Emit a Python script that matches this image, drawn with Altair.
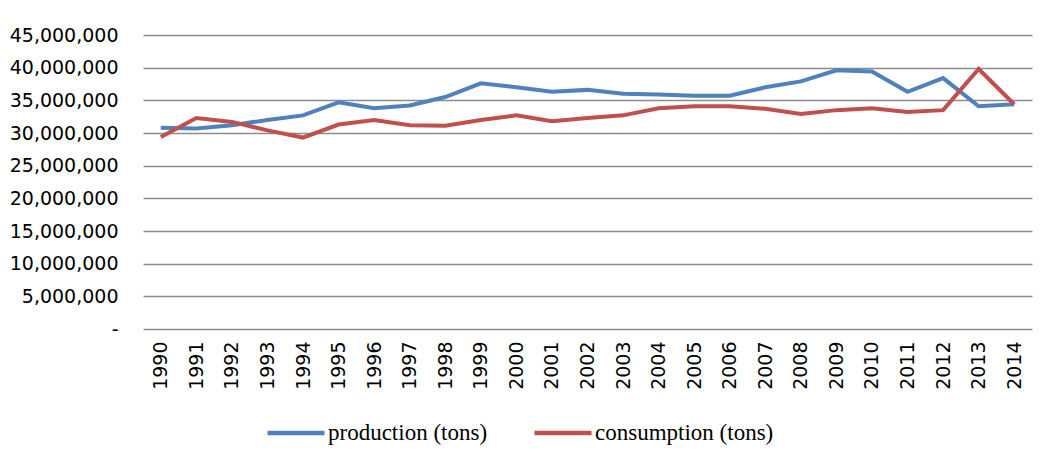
import altair as alt
import pandas as pd

years = [str(y) for y in range(1990, 2015)]
production = [30.8, 30.7, 31.2, 32.0, 32.7, 34.7, 33.8, 34.2, 35.5, 37.6, 37.0, 36.3,
              36.6, 36.0, 35.9, 35.7, 35.7, 37.0, 37.9, 39.6, 39.4, 36.3, 38.4, 34.1, 34.4]
consumption = [29.4, 32.3, 31.7, 30.4, 29.3, 31.3, 32.0, 31.2, 31.1, 32.0, 32.7, 31.8,
               32.3, 32.7, 33.8, 34.1, 34.1, 33.7, 32.9, 33.5, 33.8, 33.2, 33.5, 39.8, 34.4]
series = ["production (tons)", "consumption (tons)"]
colors = ["#4F81BD", "#C0504D"]

rows = []
for i, y in enumerate(years):
    rows.append({"year": y, "series": series[0], "value": production[i] * 1e6})
    rows.append({"year": y, "series": series[1], "value": consumption[i] * 1e6})
df = pd.DataFrame(rows)

chart = alt.Chart(df).mark_line(strokeWidth=4).encode(
    x=alt.X("year:O", sort=years, title=None,
            scale=alt.Scale(type="point", padding=0.5),
            axis=alt.Axis(labelAngle=-90, labelFont="DejaVu Sans", labelFontSize=19,
                          labelColor="#000000", ticks=False, domain=False,
                          labelPadding=12, grid=False)),
    y=alt.Y("value:Q", title=None,
            scale=alt.Scale(domain=[0, 45000000], nice=False),
            axis=alt.Axis(values=list(range(0, 45000001, 5000000)),
                          labelExpr="datum.value == 0 ? '-' : format(datum.value, ',')",
                          labelFont="DejaVu Sans", labelFontSize=19, labelColor="#000000",
                          ticks=False, domain=False, labelPadding=25,
                          grid=True, gridColor="#8c8c8c", gridWidth=1.5)),
    color=alt.Color("series:N", sort=series,
                    scale=alt.Scale(domain=series, range=colors),
                    legend=alt.Legend(title=None, orient="none", direction="horizontal",
                                      legendX=122, legendY=367,
                                      symbolType="stroke", symbolSize=3249,
                                      symbolStrokeWidth=4.5,
                                      labelFontSize=23, labelColor="#000000",
                                      labelOffset=1, columnPadding=37, labelLimit=400)),
).properties(
    width=889, height=294,
    autosize=alt.AutoSizeParams(type="none"),
    padding={"left": 135, "top": 27, "right": 12, "bottom": 120},
).configure_view(stroke=None).configure_legend(
    labelFont="Liberation Serif"
)

chart.save("out.html", embed_options={"renderer": "svg", "actions": False})
